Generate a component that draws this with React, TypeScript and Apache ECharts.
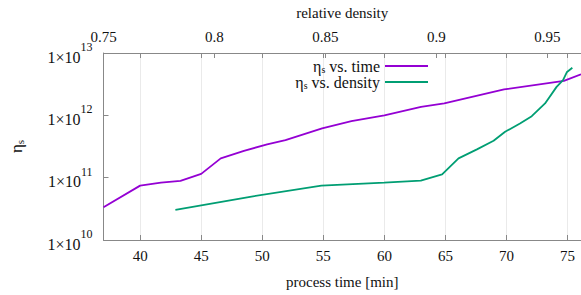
import React, { useEffect, useRef } from "react";
import * as echarts from "echarts";

// process time [min] vs. shear viscosity
const timeMin = [37.0, 40.0, 41.7, 43.3, 45.0, 46.6, 48.5, 50.4, 51.9, 54.9, 57.3, 60.0, 63.0, 64.9, 69.8, 74.7, 76.1];
const etaVsTime = [3.36e10, 7.45e10, 8.3e10, 8.85e10, 1.15e11, 2.04e11, 2.7e11, 3.42e11, 4.0e11, 6.2e11, 8.1e11, 1.0e12, 1.37e12, 1.55e12, 2.6e12, 3.56e12, 4.55e12];

// relative density vs. shear viscosity
const relDensity = [0.7824, 0.8167, 0.8482, 0.8765, 0.893, 0.9026, 0.910, 0.9183, 0.9258, 0.931, 0.9377, 0.943, 0.949, 0.9542, 0.9571, 0.9589, 0.9613];
const etaVsDensity = [3.04e10, 4.97e10, 7.45e10, 8.3e10, 8.95e10, 1.13e11, 2.04e11, 2.84e11, 3.9e11, 5.45e11, 7.4e11, 9.7e11, 1.55e12, 2.86e12, 3.66e12, 4.97e12, 5.8e12];

const seriesNames = ["time", "density"];
const timeRange = [37, 76.1];
const densityRange = [0.75, 0.9652];
const etaRange = [1e10, 1e13];

const FONT = "Liberation Serif";
const TXT = "#111";
const AX = "#888";
const PURPLE = "#9400d3";
const GREEN = "#009e73";

export default function App() {
  const ref = useRef<HTMLDivElement>(null);
  useEffect(() => {
    if (!ref.current) return;
    const chart = echarts.init(ref.current, undefined, { renderer: "svg" });
    const tickCommon = { inside: true, length: 5, lineStyle: { color: AX } };
    chart.setOption({
      animation: false,
      backgroundColor: "#fff",
      textStyle: { fontFamily: FONT },
      grid: { left: 101, right: 0, top: 53, bottom: 55, containLabel: false },
      legend: {
        data: seriesNames.map((n) => ({ name: n, icon: "rect" })),
        orient: "vertical",
        right: 148,
        top: 53,
        align: "right",
        itemWidth: 43,
        itemHeight: 2,
        itemGap: 0,
        formatter: (n: string) => (n === "time" ? "{g|η}{s|s}{t| vs. time}" : "{g|η}{s|s}{t| vs. density}"),
        textStyle: {
          fontFamily: FONT,
          fontSize: 15,
          color: TXT,
          rich: {
            g: { fontFamily: FONT, fontSize: 16, color: TXT },
            s: { fontFamily: FONT, fontSize: 10, color: TXT, verticalAlign: "bottom", padding: [6, 0, 0, 0] },
            t: { fontFamily: FONT, fontSize: 16, color: TXT },
          },
        },
      },
      xAxis: [
        {
          type: "value",
          position: "bottom",
          min: timeRange[0],
          max: timeRange[1],
          splitNumber: 8,
          name: "process time [min]",
          nameLocation: "middle",
          nameGap: 34,
          nameTextStyle: { fontFamily: FONT, fontSize: 15, color: TXT },
          axisLine: { lineStyle: { color: AX } },
          axisTick: tickCommon,
          axisLabel: { fontFamily: FONT, fontSize: 15, color: TXT, margin: 8, showMinLabel: false, showMaxLabel: false },
          splitLine: { show: true, lineStyle: { color: "#eaeaea" } },
        },
        {
          type: "value",
          position: "top",
          min: densityRange[0],
          max: densityRange[1],
          interval: 0.05,
          name: "relative density",
          nameLocation: "middle",
          nameGap: 33,
          nameTextStyle: { fontFamily: FONT, fontSize: 15, color: TXT },
          axisLine: { lineStyle: { color: AX } },
          axisTick: tickCommon,
          axisLabel: { fontFamily: FONT, fontSize: 15, color: TXT, margin: 9, showMaxLabel: false },
          splitLine: { show: false },
        },
        {
          type: "value",
          position: "top",
          min: timeRange[0],
          max: timeRange[1],
          splitNumber: 8,
          axisLine: { show: false },
          axisTick: tickCommon,
          axisLabel: { show: false },
          splitLine: { show: false },
        },
      ],
      yAxis: {
        type: "log",
        logBase: 10,
        min: etaRange[0],
        max: etaRange[1],
        name: "{g|η}{s|s}",
        nameLocation: "middle",
        nameRotate: 90,
        nameGap: 78,
        nameTextStyle: {
          rich: {
            g: { fontFamily: FONT, fontSize: 17, color: TXT },
            s: { fontFamily: FONT, fontSize: 11, color: TXT, verticalAlign: "bottom", padding: [7, 0, 0, 0] },
          },
        },
        axisLine: { show: true, lineStyle: { color: AX } },
        axisTick: tickCommon,
        splitLine: { show: false },
        axisLabel: {
          margin: 11,
          formatter: (v: number) => `{m|1×10}{e|${Math.round(Math.log10(v))}}`,
          rich: {
            m: { fontFamily: FONT, fontSize: 16, color: TXT, verticalAlign: "bottom", padding: [8, 0, 0, 0] },
            e: { fontFamily: FONT, fontSize: 12, color: TXT, verticalAlign: "top", padding: [0, 0, 8, 0] },
          },
        },
      },
      series: [
        {
          name: "time",
          type: "line",
          xAxisIndex: 0,
          symbol: "none",
          lineStyle: { color: PURPLE, width: 1.8 },
          itemStyle: { color: PURPLE },
          data: timeMin.map((t, i) => [t, etaVsTime[i]]),
        },
        {
          name: "density",
          type: "line",
          xAxisIndex: 1,
          symbol: "none",
          lineStyle: { color: GREEN, width: 1.8 },
          itemStyle: { color: GREEN },
          data: relDensity.map((d, i) => [d, etaVsDensity[i]]),
        },
      ],
    });
    return () => chart.dispose();
  }, []);
  return <div ref={ref} style={{ position: "fixed", left: 0, top: 0, width: 581, height: 295 }} />;
}
